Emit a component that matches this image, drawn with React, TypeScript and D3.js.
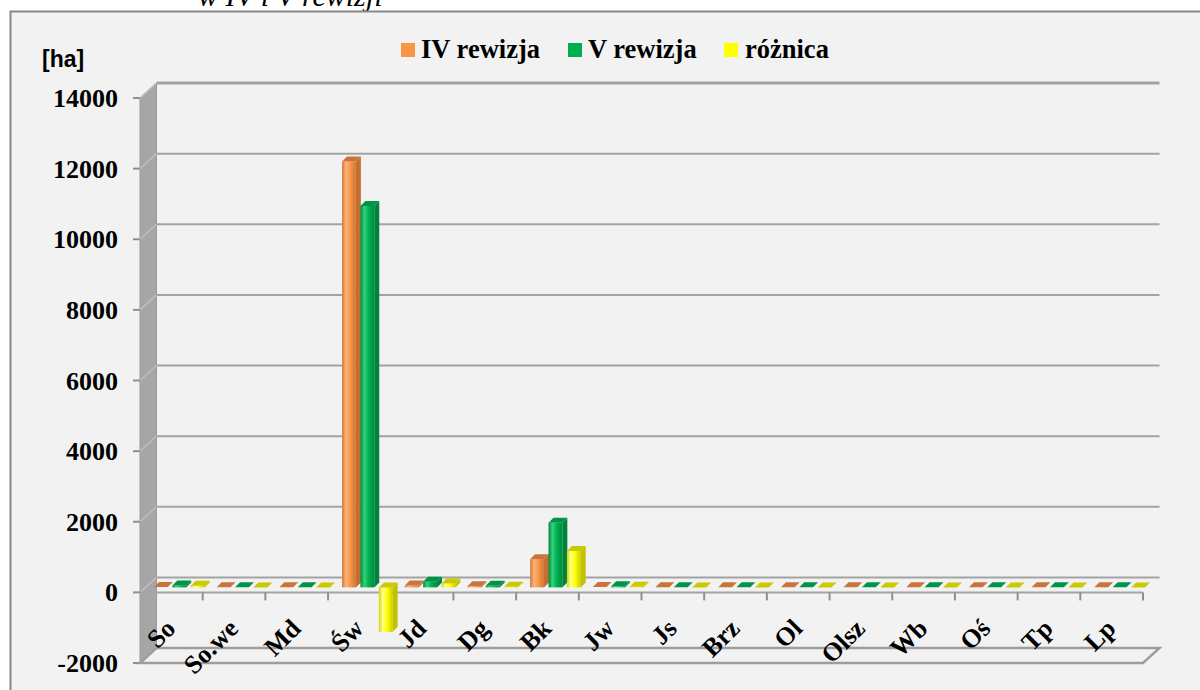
import React from 'react';
import * as d3 from 'd3';

const categories = ['So', 'So.we', 'Md', 'Św', 'Jd', 'Dg', 'Bk', 'Jw', 'Js', 'Brz', 'Ol', 'Olsz', 'Wb', 'Oś', 'Tp', 'Lp'];
const seriesNames = ['IV rewizja', 'V rewizja', 'różnica'];
const ivValues = [10, 5, 5, 12060, 50, 30, 800, 10, 5, 5, 5, 5, 5, 5, 5, 5];
const vValues = [55, 5, 5, 10800, 160, 45, 1830, 30, 5, 5, 5, 5, 5, 5, 5, 5];
const diffValues = [45, 0, 0, -1260, 110, 15, 1030, 20, 0, 0, 0, 0, 0, 0, 0, 0];
const yTicks = [-2000, 0, 2000, 4000, 6000, 8000, 10000, 12000, 14000];

const seriesStyles = [
  { id: 'iv', stops: ['#d37632', '#fbb47c', '#f79646', '#cf7636'], top: '#c9743a', side: '#c46e30' },
  { id: 'v', stops: ['#00853a', '#33d27c', '#00b050', '#008a3e'], top: '#00934a', side: '#00843b' },
  { id: 'd', stops: ['#d2d200', '#ffff90', '#ffff00', '#cccc00'], top: '#caca00', side: '#c2c200' },
];

const SERIF = '"Liberation Serif", "Times New Roman", serif';
const SANS = '"Liberation Sans", Arial, sans-serif';

export default function App() {
  const y = d3.scaleLinear().domain([-2000, 14000]).range([663, 98]);
  const x = d3.scaleBand<string>().domain(categories).range([140, 1143]).padding(0);
  const DX = 16.5;
  const DY = -15;
  const series = [ivValues, vValues, diffValues];

  const left = x.range()[0];
  const right = x.range()[1];
  const yMin = y(-2000);
  const yMax = y(14000);
  const y0 = y(0);

  const barOffsetX = 14;
  const barPitch = 18.4;
  const barW = 13.8;
  const bd = 5; // bar depth
  const barPlaneDy = -5;

  const bars: JSX.Element[] = [];
  categories.forEach((c, i) => {
    series.forEach((vals, j) => {
      const v = vals[i];
      const st = seriesStyles[j];
      const x0 = (x(c) as number) + barOffsetX + j * barPitch;
      const x1 = x0 + barW;
      const yb = y0 + barPlaneDy;
      const yv = y(v) + barPlaneDy;
      const topY = Math.min(yb, yv);
      const botY = Math.max(yb, yv);
      const h = botY - topY;
      bars.push(
        <g key={`${c}-${j}`}>
          {h > 0.5 && (
            <polygon
              points={`${x1},${topY} ${x1 + bd},${topY - bd} ${x1 + bd},${botY - bd} ${x1},${botY}`}
              fill={st.side}
            />
          )}
          {h > 0.5 && <rect x={x0} y={topY} width={barW} height={h} fill={`url(#grad-${st.id})`} />}
          <polygon
            points={`${x0},${topY} ${x1},${topY} ${x1 + bd},${topY - bd} ${x0 + bd},${topY - bd}`}
            fill={st.top}
          />
        </g>
      );
    });
  });

  return (
    <svg
      width={1200}
      height={690}
      style={{ position: 'absolute', left: 0, top: 0, display: 'block', background: '#ffffff' }}
    >
      <defs>
        {seriesStyles.map((s) => (
          <linearGradient key={s.id} id={`grad-${s.id}`} x1="0" x2="1" y1="0" y2="0">
            <stop offset="0%" stopColor={s.stops[0]} />
            <stop offset="28%" stopColor={s.stops[1]} />
            <stop offset="60%" stopColor={s.stops[2]} />
            <stop offset="100%" stopColor={s.stops[3]} />
          </linearGradient>
        ))}
      </defs>

      {/* cropped heading above chart (cut off in the original too) */}
      <text x={198} y={5.5} fontFamily={SERIF} fontStyle="italic" fontSize={30} fill="#000">
        w IV i V rewizji
      </text>

      {/* chart area frame */}
      <rect x={10.5} y={11.5} width={1250} height={750} fill="#f2f2f2" stroke="#878787" strokeWidth={2} />

      {/* back wall gridlines */}
      {yTicks.map((t) => (
        <line
          key={`g${t}`}
          x1={left + DX}
          x2={right + DX}
          y1={y(t) + DY}
          y2={y(t) + DY}
          stroke="#a3a3a3"
          strokeWidth={t === 14000 ? 3 : 2}
        />
      ))}

      {/* left side wall */}
      <polygon
        points={`${left},${yMax} ${left + DX},${yMax + DY} ${left + DX},${yMin + DY} ${left},${yMin}`}
        fill="#a6a6a6"
        stroke="#9a9a9a"
        strokeWidth={1}
      />
      {yTicks.map((t) => (
        <g key={`w${t}`}>
          <line x1={left} y1={y(t)} x2={left + DX} y2={y(t) + DY} stroke="#bdbdbd" strokeWidth={1.5} />
          <line x1={left - 7} x2={left} y1={y(t)} y2={y(t)} stroke="#8f8f8f" strokeWidth={2} />
        </g>
      ))}

      {/* floor */}
      <polygon
        points={`${left},${yMin} ${right},${yMin} ${right + DX},${yMin + DY} ${left + DX},${yMin + DY}`}
        fill="#f2f2f2"
        stroke="#9d9d9d"
        strokeWidth={2.5}
      />

      {/* category axis at zero */}
      <line x1={left} x2={right} y1={y0} y2={y0} stroke="#a3a3a3" strokeWidth={2} />
      {categories.map((c) => (
        <line
          key={`t${c}`}
          x1={(x(c) as number) + x.bandwidth()}
          x2={(x(c) as number) + x.bandwidth()}
          y1={y0}
          y2={y0 + 8}
          stroke="#8f8f8f"
          strokeWidth={2}
        />
      ))}

      {bars}

      {/* y tick labels */}
      {yTicks.map((t) => (
        <text
          key={`l${t}`}
          x={118}
          y={y(t)}
          dy="0.35em"
          textAnchor="end"
          fontFamily={SERIF}
          fontWeight="bold"
          fontSize={26}
          fill="#000"
        >
          {t}
        </text>
      ))}

      {/* category labels */}
      {categories.map((c) => {
        const px = (x(c) as number) + x.bandwidth() / 2 + 5.6;
        const py = 630;
        return (
          <text
            key={`c${c}`}
            x={px}
            y={py}
            textAnchor="end"
            transform={`rotate(-45, ${px}, ${py})`}
            fontFamily={SERIF}
            fontWeight="bold"
            fontSize={26}
            fill="#000"
          >
            {c}
          </text>
        );
      })}

      {/* unit */}
      <text x={42} y={67} fontFamily={SANS} fontWeight="bold" fontSize={23} fill="#000">
        [ha]
      </text>

      {/* legend */}
      {[
        { sx: 401, tx: 421 },
        { sx: 568, tx: 588 },
        { sx: 724, tx: 745 },
      ].map((p, j) => (
        <g key={`lg${j}`}>
          <rect x={p.sx} y={43} width={14} height={14} fill={seriesStyles[j].stops[2]} />
          <text x={p.tx} y={58} fontFamily={SERIF} fontWeight="bold" fontSize={26.5} fill="#000">
            {seriesNames[j]}
          </text>
        </g>
      ))}
    </svg>
  );
}
